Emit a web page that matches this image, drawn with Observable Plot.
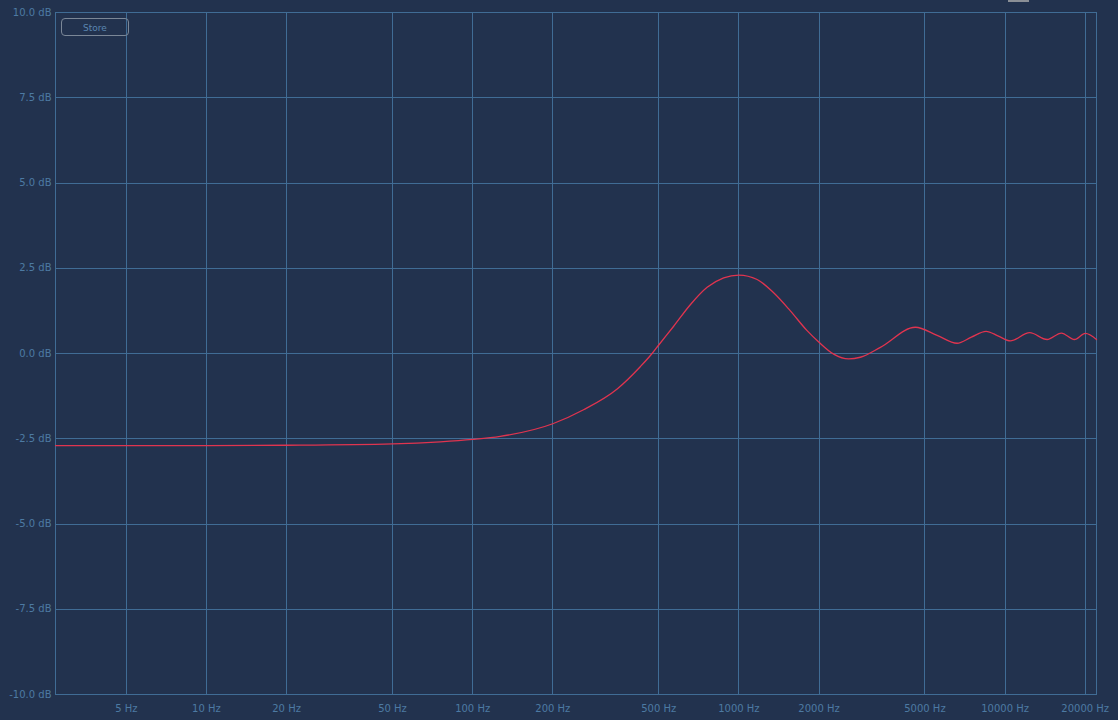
<!DOCTYPE html>
<html>
<head>
<meta charset="utf-8">
<script src="https://cdn.jsdelivr.net/npm/d3@7"></script>
<script src="https://cdn.jsdelivr.net/npm/@observablehq/plot@0.6"></script>
<style>
  html, body { margin: 0; padding: 0; background: #22324e; width: 1118px; height: 720px; overflow: hidden; }
  #wrap { position: relative; width: 1118px; height: 720px; }
  #store { position: absolute; left: 61px; top: 18px; width: 66px; height: 16px; border: 1px solid #7b8797; border-radius: 4px;
           color: #5a86b0; font: 9px "DejaVu Sans", sans-serif; text-align: center; line-height: 18px; box-sizing: content-box; }
  #toggle { position: absolute; left: 1008px; top: 0; width: 21px; height: 2px; background: #8a8f96; }
</style>
</head>
<body>
<div id="wrap">
  <div id="chart"></div>
  <div id="store">Store</div>
  <div id="toggle"></div>
</div>
<script>
const freqs = [2.71,10,20,50,75.6,100,127,200,261,349,427,472,500,569,657,760,877,1000,1171,1351,1561,1804,2000,2271,2585,2860,3401,4603,5556,6600,7469,8483,9441,10470,12370,14380,16270,18210,20030,22050];
const gains = [-2.70,-2.70,-2.69,-2.65,-2.59,-2.52,-2.43,-2.06,-1.65,-1.04,-0.38,0.0,0.25,0.80,1.43,1.94,2.22,2.30,2.17,1.78,1.25,0.67,0.33,-0.02,-0.16,-0.11,0.18,0.77,0.53,0.30,0.48,0.65,0.51,0.37,0.61,0.41,0.60,0.41,0.59,0.41];
const xTicks = [5,10,20,50,100,200,500,1000,2000,5000,10000,20000];
const xLabels = ["5 Hz","10 Hz","20 Hz","50 Hz","100 Hz","200 Hz","500 Hz","1000 Hz","2000 Hz","5000 Hz","10000 Hz","20000 Hz"];
const yTicks = [-10,-7.5,-5,-2.5,0,2.5,5,7.5,10];
const yLabels = ["-10.0 dB","-7.5 dB","-5.0 dB","-2.5 dB","0.0 dB","2.5 dB","5.0 dB","7.5 dB","10.0 dB"];

const data = freqs.map((f, i) => ({f, g: gains[i]}));
const xLab = xTicks.map((v, i) => ({v, t: xLabels[i]}));
const yLab = yTicks.map((v, i) => ({v, t: yLabels[i]}));
const gridColor = "#406c95";
const labelColor = "#4d7aa3";

const chart = Plot.plot({
  width: 1118,
  height: 720,
  marginLeft: 55,
  marginRight: 22,
  marginTop: 12,
  marginBottom: 26,
  style: {background: "#22324e", fontFamily: "DejaVu Sans, sans-serif", fontSize: "10px", overflow: "visible"},
  x: {type: "log", domain: [2.71, 22050], axis: null},
  y: {domain: [-10, 10], axis: null},
  marks: [
    Plot.ruleX(xTicks, {stroke: gridColor, strokeWidth: 1, shapeRendering: "crispEdges"}),
    Plot.ruleY(yTicks, {stroke: gridColor, strokeWidth: 1, shapeRendering: "crispEdges"}),
    Plot.frame({stroke: gridColor, strokeWidth: 1, shapeRendering: "crispEdges"}),
    Plot.text(xLab, {x: "v", y: -10, text: "t", dy: 14, fill: labelColor, textAnchor: "middle"}),
    Plot.text(yLab, {x: 2.71, y: "v", text: "t", dx: -4, fill: labelColor, textAnchor: "end"}),
    Plot.line(data, {x: "f", y: "g", stroke: "#e0344f", strokeWidth: 1.3, curve: "monotone-x"})
  ]
});
document.getElementById("chart").appendChild(chart);
</script>
</body>
</html>
